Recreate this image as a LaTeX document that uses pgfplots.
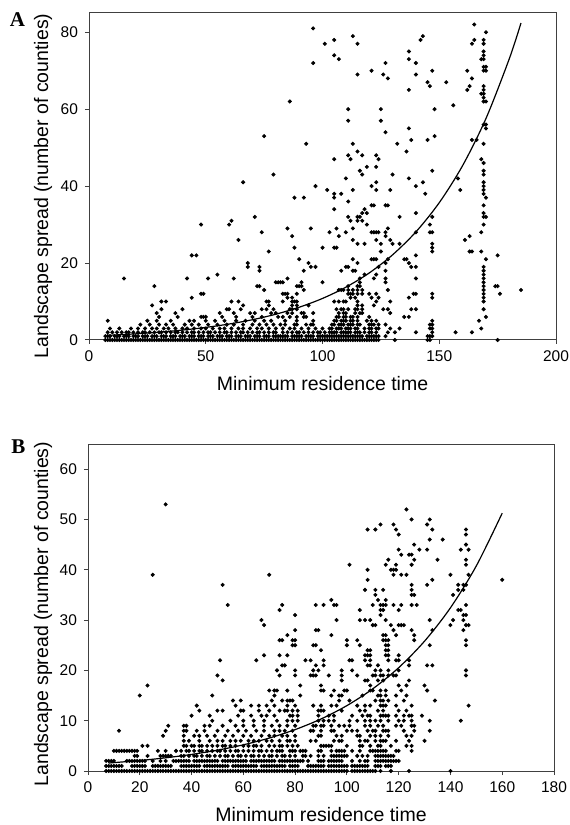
\documentclass[border=0pt]{standalone}
\usepackage{fontspec}
\setmainfont{Liberation Sans}
\newfontfamily\panelfont{Liberation Serif}
\usepackage{pgfplots}
\pgfplotsset{compat=1.18}
\pgfplotsset{
 myax/.style={
  scale only axis,
  axis line style={black!75, line width=0.5pt},
  tick style={black!75, line width=0.5pt},
  tick align=outside,
  xtick pos=bottom, ytick pos=left,
  major tick length=2pt,
  tick label style={font=\fontsize{7.75}{9}\selectfont},
  /pgf/number format/assume math mode=true,
  label style={font=\fontsize{9.75}{11}\selectfont},
  clip=false,
 },
 dots/.style={only marks, mark=*, mark size=0.8pt, black, mark options={draw=none, fill=black}},
 fit/.style={no marks, black, line width=0.6pt, smooth},
}
\begin{document}
\begin{tikzpicture}
\useasboundingbox (0,0) rectangle (284.5pt,412.5pt);
\node[font=\panelfont\bfseries\fontsize{10.5}{12}\selectfont] at (8.75pt,402.5pt) {A};
\node[font=\panelfont\bfseries\fontsize{10.5}{12}\selectfont] at (9.25pt,189pt) {B};
% ---------------- Panel A ----------------
\begin{axis}[myax, at={(44.5pt,242.5pt)}, anchor=south west, width=233.5pt, height=163.5pt,
 xmin=0, xmax=200, ymin=0, ymax=85, xtick={0,50,...,200}, ytick={0,20,...,80},
 xlabel={Minimum residence time}, ylabel={Landscape spread (number of counties)},
 xlabel style={at={(axis description cs:0.5,-0.155)}, anchor=base},
 ylabel style={at={(axis description cs:-0.0985,0.471)}, anchor=center}]
\addplot[dots] coordinates {
(7,0)(8,0)(9,0)(10,0)(11,0)(12,0)(13,0)(14,0)(15,0)(16,0)(17,0)(18,0)(19,0)(20,0)(21,0)(22,0)(23,0)(24,0)(25,0)(26,0)(27,0)(28,0)(29,0)(30,0)(31,0)(32,0)(33,0)(34,0)(35,0)(36,0)(37,0)(38,0)(39,0)(40,0)(41,0)(42,0)(43,0)(44,0)(45,0)(46,0)(47,0)(48,0)(49,0)(50,0)(51,0)(52,0)(53,0)(54,0)(55,0)(56,0)(57,0)(58,0)(59,0)(60,0)(61,0)(62,0)(63,0)(64,0)(65,0)(66,0)(67,0)(68,0)(69,0)(70,0)(71,0)(72,0)(73,0)(74,0)(75,0)(76,0)(77,0)(78,0)(79,0)(80,0)(81,0)(82,0)(83,0)(84,0)(85,0)(86,0)(87,0)(88,0)(89,0)(90,0)(91,0)(92,0)(93,0)(94,0)(95,0)(96,0)(97,0)(98,0)(99,0)(100,0)(101,0)(102,0)(103,0)(104,0)(105,0)(106,0)(107,0)(108,0)(109,0)(110,0)(111,0)(112,0)(113,0)(114,0)(115,0)(116,0)(117,0)(118,0)(119,0)(120,0)(121,0)(122,0)(123,0)(124,0)(131,0)(145,0)(146,0)(175,0)
(7,1)(8,1)(9,1)(11,1)(12,1)(13,1)(15,1)(16,1)(17,1)(19,1)(20,1)(21,1)(23,1)(24,1)(25,1)(27,1)(28,1)(29,1)(31,1)(32,1)(33,1)(35,1)(36,1)(37,1)(39,1)(40,1)(41,1)(43,1)(44,1)(45,1)(47,1)(48,1)(49,1)(51,1)(52,1)(53,1)(55,1)(56,1)(57,1)(59,1)(60,1)(61,1)(63,1)(64,1)(65,1)(67,1)(68,1)(69,1)(71,1)(72,1)(73,1)(75,1)(76,1)(77,1)(79,1)(80,1)(81,1)(82,1)(83,1)(84,1)(85,1)(87,1)(88,1)(89,1)(90,1)(91,1)(93,1)(94,1)(95,1)(96,1)(98,1)(99,1)(100,1)(101,1)(102,1)(103,1)(104,1)(105,1)(106,1)(107,1)(108,1)(109,1)(110,1)(111,1)(112,1)(113,1)(114,1)(115,1)(116,1)(117,1)(119,1)(120,1)(121,1)(122,1)(123,1)(124,1)(127,1)(145,1)(146,1)(147,1)
(8,2)(10,2)(12,2)(14,2)(16,2)(17,2)(19,2)(21,2)(23,2)(24,2)(26,2)(28,2)(30,2)(31,2)(33,2)(35,2)(37,2)(38,2)(40,2)(42,2)(44,2)(45,2)(47,2)(49,2)(51,2)(52,2)(54,2)(56,2)(58,2)(59,2)(61,2)(63,2)(65,2)(66,2)(68,2)(70,2)(72,2)(73,2)(75,2)(77,2)(79,2)(80,2)(83,2)(85,2)(87,2)(89,2)(90,2)(92,2)(94,2)(96,2)(98,2)(99,2)(101,2)(103,2)(104,2)(105,2)(106,2)(108,2)(109,2)(110,2)(111,2)(112,2)(114,2)(115,2)(116,2)(118,2)(120,2)(121,2)(123,2)(128,2)(131,2)(140,2)(147,2)(157,2)(164,2)
(9,3)(13,3)(18,3)(21,3)(24,3)(27,3)(29,3)(32,3)(34,3)(37,3)(40,3)(42,3)(45,3)(48,3)(50,3)(53,3)(56,3)(58,3)(61,3)(64,3)(66,3)(69,3)(72,3)(74,3)(77,3)(80,3)(83,3)(86,3)(88,3)(91,3)(94,3)(97,3)(100,3)(103,3)(104,3)(106,3)(107,3)(108,3)(110,3)(111,3)(112,3)(114,3)(115,3)(118,3)(120,3)(121,3)(123,3)(124,3)(129,3)(133,3)(146,3)(147,3)(168,3)
(22,4)(26,4)(30,4)(33,4)(36,4)(41,4)(44,4)(47,4)(51,4)(55,4)(59,4)(62,4)(66,4)(70,4)(73,4)(76,4)(79,4)(82,4)(84,4)(88,4)(89,4)(93,4)(95,4)(96,4)(104,4)(105,4)(107,4)(108,4)(109,4)(111,4)(112,4)(113,4)(115,4)(116,4)(120,4)(121,4)(122,4)(124,4)(127,4)(146,4)(147,4)
(8,5)(25,5)(29,5)(35,5)(43,5)(45,5)(50,5)(54,5)(58,5)(63,5)(67,5)(71,5)(75,5)(78,5)(84,5)(89,5)(96,5)(105,5)(106,5)(108,5)(109,5)(110,5)(112,5)(113,5)(115,5)(119,5)(121,5)(123,5)(147,5)(167,5)
(30,6)(38,6)(48,6)(49,6)(50,6)(57,6)(63,6)(70,6)(74,6)(81,6)(83,6)(86,6)(89,6)(92,6)(93,6)(106,6)(107,6)(109,6)(110,6)(112,6)(113,6)(115,6)(120,6)(135,6)(137,6)(170,6)
(29,7)(37,7)(56,7)(62,7)(69,7)(71,7)(78,7)(80,7)(85,7)(87,7)(91,7)(92,7)(96,7)(107,7)(109,7)(110,7)(114,7)(116,7)(117,7)(129,7)
(31,8)(40,8)(59,8)(60,8)(65,8)(74,8)(76,8)(79,8)(86,8)(87,8)(89,8)(106,8)(108,8)(109,8)(111,8)(114,8)(115,8)(117,8)(126,8)(128,8)(138,8)(140,8)(169,8)
(27,9)(66,9)(77,9)(87,9)(89,9)(94,9)(115,9)(117,9)(122,9)
(31,10)(33,10)(61,10)(64,10)(76,10)(77,10)(83,10)(87,10)(88,10)(89,10)(105,10)(107,10)(109,10)(110,10)(115,10)(123,10)(129,10)(169,10)
(44,11)(85,11)(87,11)(112,11)(114,11)(121,11)(124,11)(137,11)(147,11)(169,11)
(48,12)(49,12)(83,12)(84,12)(85,12)(89,12)(111,12)(112,12)(113,12)(115,12)(117,12)(120,12)(123,12)(139,12)(140,12)(147,12)(169,12)(176,12)
(75,13)(92,13)(107,13)(108,13)(109,13)(111,13)(113,13)(115,13)(117,13)(128,13)(169,13)(185,13)
(28,14)(72,14)(73,14)(89,14)(90,14)(91,14)(111,14)(115,14)(116,14)(169,14)(174,14)(175,14)
(80,15)(81,15)(82,15)(83,15)(91,15)(100,15)(116,15)(127,15)(169,15)
(15,16)(42,16)(51,16)(62,16)(85,16)(116,16)(122,16)(127,16)(140,16)(169,16)
(55,17)(118,17)(123,17)(169,17)
(73,18)(92,18)(108,18)(113,18)(114,18)(127,18)(169,18)
(68,19)(73,19)(95,19)(97,19)(110,19)(111,19)(124,19)(138,19)(140,19)(169,19)
(68,20)(94,20)(115,20)(127,20)(137,20)
(90,21)(113,21)(121,21)(122,21)(123,21)(128,21)(135,21)(136,21)(170,21)
(44,22)(46,22)(140,22)(175,22)
(77,23)(125,23)(147,23)(163,23)(164,23)(168,23)
(88,24)(100,24)(105,24)(106,24)(147,24)
(115,25)(118,25)(125,25)(130,25)(133,25)(147,25)
(64,26)(113,26)(123,26)(129,26)(161,26)
(87,27)(107,27)(127,27)(163,27)
(74,28)(103,28)(110,28)(121,28)(122,28)(123,28)(124,28)(127,28)(140,28)(146,28)(147,28)(168,28)
(85,29)(95,29)(106,29)(113,29)(128,29)
(48,30)(60,30)(119,30)(146,30)(169,30)
(61,31)(112,31)(115,31)(117,31)
(71,32)(111,32)(115,32)(116,32)(133,32)(147,32)(169,32)(170,32)
(117,33)(119,33)(140,33)(169,33)
(105,34)(118,34)
(121,35)(122,35)(127,35)(128,35)(169,35)
(111,36)
(88,37)(92,37)(105,37)(170,37)
(105,38)(108,38)(144,38)(169,38)
(102,39)(113,39)(123,39)(129,39)(159,39)(169,39)
(97,40)(121,40)(140,40)(169,40)
(66,41)(123,41)(143,41)(169,41)
(110,42)(137,42)(158,42)
(79,43)(117,43)(130,43)(169,43)
(116,44)(147,44)(169,44)
(119,45)(123,45)
(169,46)
(105,47)(112,47)(124,47)(168,47)
(111,48)(117,48)(123,48)
(115,49)(136,49)
(93,51)(113,51)(132,51)(169,51)
(138,52)(145,52)(164,52)(166,52)
(75,53)(148,53)
(127,54)
(137,55)(170,55)
(169,56)(170,56)
(111,57)(125,57)
(111,60)(125,60)(148,60)
(156,61)
(86,62)(169,62)(170,62)
(169,63)
(168,64)(169,64)
(137,65)(162,65)(169,65)
(146,66)(163,66)(169,66)
(145,67)(153,67)
(128,68)(164,68)
(115,69)(126,69)(140,69)
(121,70)(147,70)(162,70)(169,70)(170,70)
(169,71)(170,71)
(96,72)(127,72)(140,72)
(107,73)(137,73)(168,73)(169,73)
(105,74)(169,74)
(137,75)(169,75)
(101,77)(115,77)(164,77)(169,77)
(105,78)(142,78)(165,78)(169,78)
(113,79)(143,79)
(170,80)
(96,81)
(165,82)
};
\addplot[fit] coordinates {(8,1.20)(20,1.60)(30,2.03)(40,2.58)(50,3.27)(60,4.15)(70,5.27)(80,6.70)(90,8.51)(100,10.80)(110,13.72)(120,17.42)(130,22.13)(140,28.10)(150,35.69)(160,45.33)(170,57.57)(180,73.11)(185,82.39)};
\end{axis}
% ---------------- Panel B ----------------
\begin{axis}[myax, at={(44pt,27pt)}, anchor=south west, width=233pt, height=163.5pt,
 xmin=0, xmax=180, ymin=0, ymax=65, xtick={0,20,...,180}, ytick={0,10,...,60},
 xlabel={Minimum residence time}, ylabel={Landscape spread (number of counties)},
 xlabel style={at={(axis description cs:0.5,-0.155)}, anchor=base},
 ylabel style={at={(axis description cs:-0.0966,0.480)}, anchor=center}]
\addplot[dots] coordinates {
(7,0)(8,0)(9,0)(10,0)(11,0)(12,0)(13,0)(14,0)(15,0)(16,0)(17,0)(18,0)(19,0)(20,0)(21,0)(22,0)(23,0)(24,0)(25,0)(26,0)(27,0)(28,0)(29,0)(30,0)(31,0)(32,0)(33,0)(34,0)(35,0)(36,0)(37,0)(38,0)(39,0)(40,0)(41,0)(42,0)(43,0)(44,0)(45,0)(46,0)(47,0)(48,0)(49,0)(50,0)(51,0)(52,0)(53,0)(54,0)(55,0)(56,0)(57,0)(58,0)(59,0)(60,0)(61,0)(62,0)(63,0)(64,0)(65,0)(66,0)(67,0)(68,0)(69,0)(70,0)(71,0)(72,0)(73,0)(74,0)(75,0)(76,0)(77,0)(78,0)(79,0)(80,0)(81,0)(82,0)(83,0)(84,0)(85,0)(86,0)(87,0)(88,0)(89,0)(90,0)(91,0)(92,0)(93,0)(94,0)(95,0)(96,0)(97,0)(98,0)(99,0)(100,0)(102,0)(103,0)(104,0)(105,0)(106,0)(107,0)(108,0)(109,0)(110,0)(111,0)(113,0)(117,0)(124,0)(140,0)
(7,1)(8,1)(9,1)(10,1)(11,1)(12,1)(13,1)(17,1)(18,1)(19,1)(20,1)(21,1)(22,1)(25,1)(26,1)(27,1)(28,1)(29,1)(30,1)(31,1)(32,1)(36,1)(37,1)(38,1)(39,1)(40,1)(41,1)(42,1)(43,1)(45,1)(46,1)(47,1)(48,1)(49,1)(50,1)(51,1)(52,1)(53,1)(54,1)(56,1)(57,1)(58,1)(59,1)(60,1)(61,1)(62,1)(63,1)(64,1)(65,1)(67,1)(68,1)(69,1)(70,1)(71,1)(72,1)(73,1)(74,1)(75,1)(76,1)(78,1)(79,1)(80,1)(81,1)(85,1)(86,1)(87,1)(88,1)(89,1)(90,1)(91,1)(93,1)(94,1)(95,1)(96,1)(97,1)(98,1)(99,1)(100,1)(102,1)(103,1)(104,1)(105,1)(106,1)(107,1)(108,1)(111,1)(112,1)(113,1)(115,1)(116,1)(117,1)
(7,2)(8,2)(9,2)(10,2)(15,2)(16,2)(17,2)(18,2)(19,2)(20,2)(21,2)(22,2)(25,2)(28,2)(30,2)(33,2)(34,2)(35,2)(36,2)(37,2)(38,2)(39,2)(41,2)(42,2)(43,2)(44,2)(45,2)(46,2)(47,2)(48,2)(49,2)(50,2)(52,2)(53,2)(54,2)(55,2)(56,2)(57,2)(58,2)(59,2)(60,2)(61,2)(63,2)(64,2)(65,2)(66,2)(67,2)(68,2)(69,2)(70,2)(71,2)(72,2)(74,2)(75,2)(76,2)(77,2)(78,2)(79,2)(80,2)(81,2)(82,2)(83,2)(85,2)(89,2)(90,2)(91,2)(93,2)(94,2)(95,2)(96,2)(97,2)(98,2)(102,2)(105,2)(107,2)(108,2)(111,2)(112,2)(113,2)(114,2)(115,2)(116,2)(117,2)(118,2)(119,2)(120,2)
(18,3)(19,3)(23,3)(28,3)(29,3)(30,3)(31,3)(32,3)(36,3)(37,3)(39,3)(41,3)(42,3)(44,3)(46,3)(47,3)(49,3)(51,3)(53,3)(54,3)(56,3)(58,3)(59,3)(61,3)(63,3)(64,3)(66,3)(68,3)(70,3)(71,3)(73,3)(75,3)(76,3)(78,3)(80,3)(83,3)(84,3)(86,3)(89,3)(91,3)(94,3)(95,3)(96,3)(97,3)(98,3)(99,3)(100,3)(104,3)(106,3)(108,3)(111,3)(112,3)(113,3)(114,3)(115,3)(116,3)(117,3)(118,3)
(10,4)(11,4)(12,4)(13,4)(14,4)(15,4)(16,4)(17,4)(18,4)(19,4)(27,4)(30,4)(34,4)(36,4)(38,4)(39,4)(41,4)(43,4)(44,4)(46,4)(48,4)(50,4)(51,4)(53,4)(55,4)(57,4)(58,4)(60,4)(62,4)(64,4)(66,4)(67,4)(69,4)(71,4)(73,4)(74,4)(75,4)(78,4)(79,4)(80,4)(82,4)(83,4)(84,4)(89,4)(90,4)(94,4)(96,4)(97,4)(98,4)(99,4)(102,4)(105,4)(109,4)(110,4)(111,4)(112,4)(113,4)(114,4)(115,4)(119,4)(120,4)(125,4)
(21,5)(23,5)(37,5)(38,5)(40,5)(41,5)(43,5)(44,5)(46,5)(48,5)(50,5)(52,5)(53,5)(55,5)(57,5)(60,5)(62,5)(64,5)(65,5)(67,5)(70,5)(72,5)(74,5)(75,5)(77,5)(79,5)(81,5)(90,5)(91,5)(92,5)(93,5)(94,5)(100,5)(105,5)(106,5)(109,5)(112,5)(113,5)(117,5)(123,5)(125,5)
(37,6)(39,6)(43,6)(47,6)(50,6)(52,6)(55,6)(57,6)(59,6)(62,6)(64,6)(66,6)(69,6)(71,6)(74,6)(77,6)(78,6)(80,6)(86,6)(88,6)(95,6)(97,6)(98,6)(105,6)(107,6)(108,6)(111,6)(113,6)(114,6)(115,6)(119,6)(124,6)(130,6)
(29,7)(37,7)(41,7)(43,7)(46,7)(49,7)(53,7)(56,7)(60,7)(63,7)(67,7)(70,7)(72,7)(75,7)(77,7)(80,7)(89,7)(90,7)(96,7)(98,7)(104,7)(105,7)(109,7)(111,7)(113,7)(116,7)(123,7)(125,7)
(12,8)(30,8)(37,8)(38,8)(42,8)(45,8)(50,8)(54,8)(58,8)(61,8)(65,8)(68,8)(72,8)(74,8)(76,8)(79,8)(86,8)(87,8)(90,8)(94,8)(95,8)(100,8)(102,8)(104,8)(108,8)(110,8)(111,8)(114,8)(115,8)(116,8)(122,8)(126,8)(132,8)
(31,9)(37,9)(38,9)(45,9)(47,9)(52,9)(57,9)(60,9)(64,9)(68,9)(71,9)(74,9)(77,9)(80,9)(87,9)(88,9)(90,9)(91,9)(94,9)(97,9)(99,9)(101,9)(107,9)(109,9)(112,9)(114,9)(119,9)(121,9)(125,9)(126,9)
(48,10)(55,10)(60,10)(64,10)(68,10)(73,10)(77,10)(79,10)(81,10)(89,10)(91,10)(93,10)(95,10)(101,10)(104,10)(107,10)(109,10)(111,10)(113,10)(116,10)(120,10)(122,10)(125,10)(132,10)(144,10)
(40,11)(47,11)(58,11)(63,11)(67,11)(69,11)(72,11)(78,11)(79,11)(81,11)(89,11)(93,11)(95,11)(102,11)(106,11)(108,11)(109,11)(113,11)(114,11)(115,11)(116,11)(119,11)(122,11)(124,11)(125,11)(129,11)
(43,12)(50,12)(52,12)(59,12)(60,12)(66,12)(70,12)(74,12)(76,12)(77,12)(79,12)(81,12)(89,12)(90,12)(91,12)(98,12)(105,12)(107,12)(112,12)(114,12)(120,12)(123,12)
(42,13)(57,13)(63,13)(66,13)(69,13)(72,13)(77,13)(80,13)(87,13)(90,13)(94,13)(96,13)(104,13)(107,13)(109,13)(113,13)(114,13)(115,13)(119,13)(125,13)(147,13)
(56,14)(59,14)(71,14)(75,14)(77,14)(78,14)(79,14)(97,14)(101,14)(111,14)(113,14)(114,14)(116,14)(122,14)(134,14)
(20,15)(48,15)(72,15)(82,15)(94,15)(97,15)(98,15)(106,15)(112,15)(113,15)(115,15)(119,15)(123,15)
(70,16)(72,16)(73,16)(77,16)(90,16)(91,16)(95,16)(99,16)(100,16)(109,16)(110,16)(113,16)(115,16)(121,16)(131,16)
(23,17)(82,17)(90,17)(109,17)(120,17)(123,17)(130,17)
(52,18)(98,18)(107,18)(108,18)(112,18)(114,18)(124,18)
(50,19)(74,19)(80,19)(86,19)(87,19)(88,19)(93,19)(98,19)(104,19)(110,19)(111,19)(113,19)(114,19)(116,19)(118,19)(119,19)(146,19)
(73,20)(80,20)(87,20)(89,20)(98,20)(102,20)(111,20)(113,20)(116,20)(120,20)(146,20)
(75,21)(76,21)(88,21)(91,21)(108,21)(109,21)(112,21)(124,21)(131,21)(133,21)
(51,22)(65,22)(84,22)(86,22)(91,22)(101,22)(102,22)(107,22)(109,22)(116,22)(119,22)(120,22)(124,22)
(68,23)(74,23)(77,23)(107,23)(108,23)(109,23)(115,23)(116,23)(120,23)
(90,24)(108,24)(109,24)(115,24)(116,24)
(79,25)(80,25)(87,25)(88,25)(100,25)(105,25)(115,25)(116,25)(132,25)(146,25)
(74,26)(75,26)(79,26)(80,26)(100,26)(104,26)(114,26)(115,26)(116,26)(126,26)(146,26)
(77,27)(94,27)(114,27)(115,27)(119,27)(126,27)
(80,28)(88,28)(89,28)(118,28)(125,28)(133,28)(145,28)
(68,29)(110,29)(111,29)(117,29)(120,29)(121,29)(122,29)(140,29)(146,29)(147,29)
(67,30)(96,30)(105,30)(107,30)(109,30)(115,30)(132,30)(141,30)(145,30)
(113,31)(145,31)(146,31)(80,31)
(74,32)(105,32)(113,32)(114,32)(120,32)(143,32)(144,32)
(54,33)(75,33)(88,33)(91,33)(95,33)(96,33)(110,33)(113,33)(114,33)(115,33)(118,33)(121,33)(125,33)(127,33)(146,33)
(94,34)(112,34)(115,34)
(111,35)(125,35)(126,35)(141,35)
(107,36)(111,36)(114,36)(125,36)(143,36)(145,36)
(52,37)(125,37)(131,37)(143,37)(145,37)(146,37)
(108,38)(133,38)(160,38)
(25,39)(70,39)(118,39)(121,39)(123,39)(140,39)(147,39)
(108,40)(117,40)(118,40)(119,40)
(101,41)(115,41)(119,41)(125,41)(146,41)
(116,42)(126,42)(135,42)(146,42)
(121,43)(124,43)(125,43)
(120,44)(128,44)(131,44)(144,44)(147,44)
(126,45)(146,45)
(132,46)(137,46)
(120,47)(146,47)
(108,48)(111,48)(119,48)(133,48)(146,48)
(113,49)(118,49)(131,49)
(125,50)(132,50)
(123,52)
(30,53)
};
\addplot[fit] coordinates {(8,1.585)(20,2.086)(30,2.622)(40,3.295)(50,4.142)(60,5.206)(70,6.544)(80,8.226)(90,10.340)(100,12.996)(110,16.335)(120,20.533)(130,25.81)(140,32.44)(150,40.78)(160,51.26)};
\end{axis}
\end{tikzpicture}
\end{document}
